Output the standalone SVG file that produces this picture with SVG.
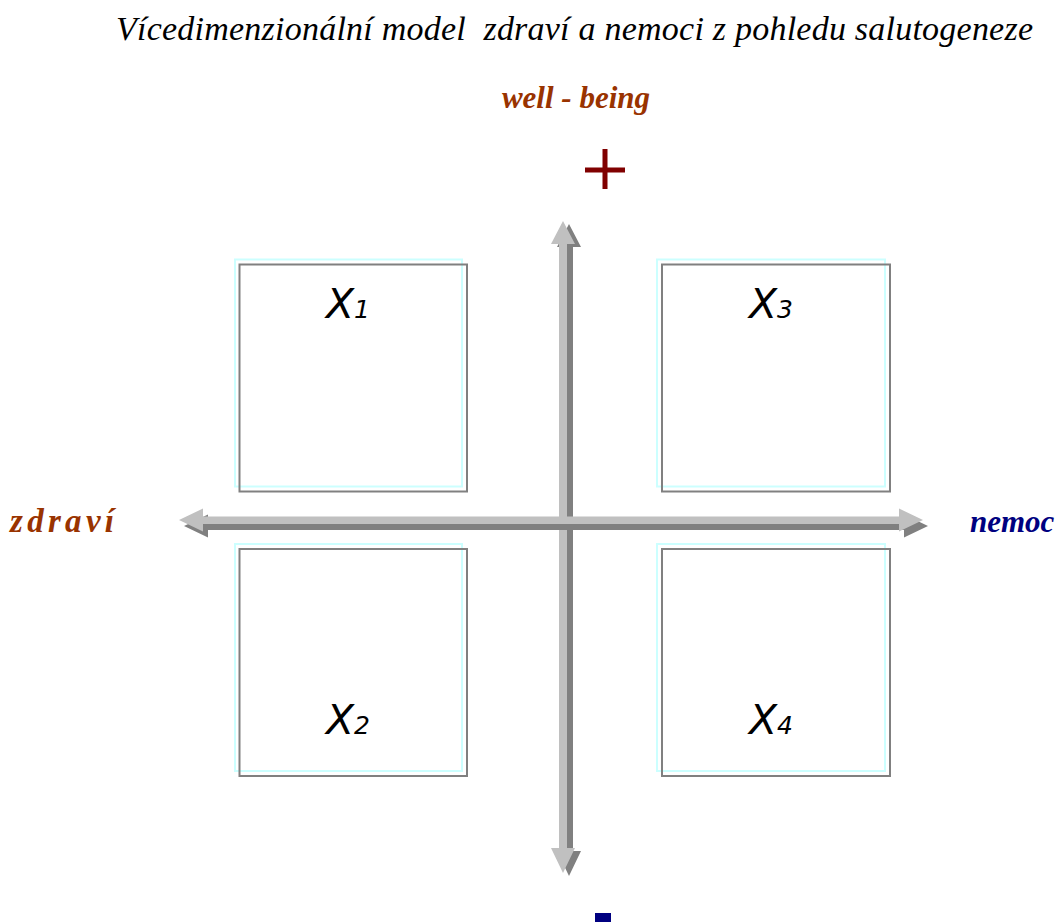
<svg xmlns="http://www.w3.org/2000/svg" width="1061" height="922" viewBox="0 0 1061 922">
<style>
.title{font-family:"Liberation Serif",serif;font-style:italic;font-size:34px;fill:#000;white-space:pre}
.lbl{font-family:"Liberation Serif",serif;font-style:italic;font-weight:bold;font-size:31px}
.brown{fill:#993300}
.navy{fill:#000080}
.box{fill:none;stroke:#808080;stroke-width:2}
.glow{fill:none;stroke:#ccffff;stroke-width:2}
.x{font-family:"DejaVu Sans",sans-serif;font-style:italic;font-size:41px;fill:#000}
.sub{font-size:25px}
.lt{fill:#c0c0c0}
.dk{fill:#808080}
</style>
<rect width="1061" height="922" fill="#fff"/>
<text class="title" x="116" y="40" xml:space="preserve" textLength="917" lengthAdjust="spacing">Vícedimenzionální model  zdraví a nemoci z pohledu salutogeneze</text>
<text class="lbl brown" x="576" y="108" text-anchor="middle">well - being</text>
<g id="plus"><rect x="585" y="167.5" width="40" height="5" fill="#800000"/><rect x="602.5" y="149" width="5" height="40" fill="#800000"/></g>
<rect id="minus" x="595" y="913" width="16" height="9" fill="#000080"/>
<text class="lbl brown" x="10" y="532" style="font-size:33px" textLength="104" lengthAdjust="spacing">zdraví</text>
<text class="lbl navy" x="970" y="532">nemoc</text>

<g id="axes">
  <g id="vertical">
    <polygon class="dk" transform="translate(6,3)" points="563,221 575,244 567,244 567,848 575,848 563,873 551,848 559,848 559,244 551,244"/>
    <polygon class="lt" points="563,221 575,244 567,244 567,848 575,848 563,873 551,848 559,848 559,244 551,244"/>
  </g>
  <g id="horizontal">
    <polygon class="dk" transform="translate(5,6)" points="179,520 203,508.5 203,516.5 899,516.5 899,508.5 923,520 899,531.5 899,524 203,524 203,531.5"/>
    <polygon class="lt" points="179,520 203,508.5 203,516.5 899,516.5 899,508.5 923,520 899,531.5 899,524 203,524 203,531.5"/>
  </g>
</g>

<g id="q1">
  <rect class="glow" x="235" y="259.5" width="227" height="227"/>
  <rect class="box" x="239.5" y="264.5" width="227.5" height="227"/>
  <text class="x" x="326" y="318">X<tspan class="sub">1</tspan></text>
</g>
<g id="q2">
  <rect class="glow" x="235" y="544" width="227" height="227"/>
  <rect class="box" x="239.5" y="549" width="227.5" height="227"/>
  <text class="x" x="326" y="734">X<tspan class="sub">2</tspan></text>
</g>
<g id="q3">
  <rect class="glow" x="657" y="259.5" width="228" height="227"/>
  <rect class="box" x="662" y="264.5" width="228" height="227"/>
  <text class="x" x="749" y="318">X<tspan class="sub">3</tspan></text>
</g>
<g id="q4">
  <rect class="glow" x="657" y="544" width="228" height="227"/>
  <rect class="box" x="662" y="549" width="228" height="227"/>
  <text class="x" x="749" y="734">X<tspan class="sub">4</tspan></text>
</g>
</svg>
